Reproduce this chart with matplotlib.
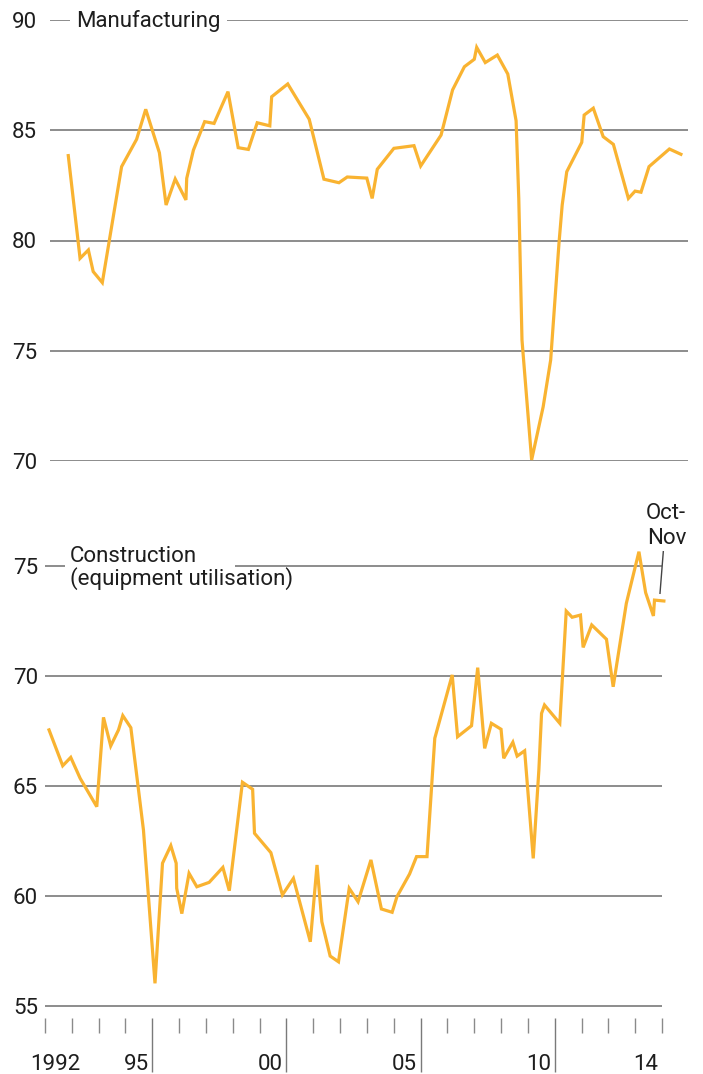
import matplotlib
matplotlib.use("Agg")
import matplotlib.pyplot as plt
from matplotlib.lines import Line2D
from matplotlib.patches import Rectangle
from matplotlib.ticker import FixedLocator

plt.rcParams['font.family'] = ['Roboto', 'DejaVu Sans']

# ---------------- data ----------------
manuf_x = [1992.01, 1992.45, 1992.76, 1992.94, 1993.28, 1994.00, 1994.56, 1994.90,
           1995.41, 1995.66, 1996.00, 1996.40, 1996.43, 1996.68, 1997.10, 1997.45,
           1997.97, 1998.35, 1998.73, 1999.06, 1999.53, 1999.60, 2000.20, 2001.00,
           2001.55, 2002.11, 2002.42, 2003.15, 2003.35, 2003.54, 2004.16, 2004.91,
           2005.16, 2005.92, 2006.35, 2006.79, 2007.16, 2007.25, 2007.57, 2008.02,
           2008.41, 2008.72, 2008.82, 2008.94, 2009.30, 2009.73, 2010.01, 2010.32,
           2010.44, 2010.61, 2011.17, 2011.26, 2011.60, 2011.97, 2012.35, 2012.91,
           2013.16, 2013.38, 2013.68, 2014.44, 2014.87]
manuf_y = [83.85, 79.19, 79.57, 78.59, 78.09, 83.35, 84.59, 85.95,
           83.98, 81.61, 82.79, 81.84, 82.82, 84.10, 85.39, 85.31,
           86.75, 84.21, 84.13, 85.34, 85.20, 86.52, 87.10, 85.50,
           82.78, 82.62, 82.88, 82.83, 81.91, 83.23, 84.18, 84.30,
           83.38, 84.78, 86.83, 87.88, 88.22, 88.76, 88.07, 88.41,
           87.55, 85.43, 81.90, 75.49, 70.05, 72.46, 74.58, 79.87,
           81.61, 83.12, 84.45, 85.69, 86.00, 84.71, 84.36, 81.91,
           82.24, 82.19, 83.35, 84.15, 83.91]

constr_x = [1992.15, 1992.66, 1992.96, 1993.31, 1993.93, 1994.18, 1994.45, 1994.74,
            1994.90, 1995.20, 1995.67, 1996.10, 1996.38, 1996.69, 1996.89, 1996.91,
            1997.10, 1997.37, 1997.66, 1998.12, 1998.63, 1998.87, 1999.36, 1999.74,
            1999.81, 2000.42, 2000.85, 2001.26, 2001.89, 2002.14, 2002.32, 2002.63,
            2002.94, 2003.34, 2003.67, 2004.15, 2004.54, 2004.94, 2005.12, 2005.59,
            2005.85, 2006.24, 2006.53, 2007.18, 2007.38, 2007.90, 2008.13, 2008.39,
            2008.64, 2009.00, 2009.10, 2009.44, 2009.60, 2009.88, 2010.20, 2010.41,
            2010.51, 2010.62, 2011.19, 2011.43, 2011.65, 2011.96, 2012.06, 2012.38,
            2012.93, 2013.18, 2013.67, 2014.14, 2014.39, 2014.68, 2014.72, 2015.07]
constr_y = [67.55, 65.92, 66.30, 65.35, 64.06, 68.12, 66.82, 67.55,
            68.20, 67.65, 63.00, 56.03, 61.49, 62.29, 61.49, 60.35,
            59.20, 61.03, 60.42, 60.62, 61.30, 60.24, 65.17, 64.85,
            62.85, 61.97, 60.05, 60.80, 57.92, 61.41, 58.83, 57.27,
            57.01, 60.35, 59.74, 61.64, 59.41, 59.26, 59.97, 61.00,
            61.79, 61.79, 67.17, 70.05, 67.24, 67.74, 70.38, 66.71,
            67.85, 67.58, 66.26, 66.99, 66.36, 66.60, 61.71, 65.73,
            68.30, 68.68, 67.85, 72.95, 72.67, 72.77, 71.30, 72.32,
            71.67, 69.51, 73.30, 75.65, 73.79, 72.73, 73.45, 73.41]

manuf_ticks = [70, 75, 80, 85, 90]
constr_ticks = [55, 60, 65, 70, 75]
year_label_pos = [1992, 1995, 2000, 2005, 2010, 2014]
year_labels = ["1992", "95", "00", "05", "10", "14"]
long_ticks = [1996, 2001, 2006, 2011]
short_ticks = list(range(1992, 2016))

# ---------------- style ----------------
W, H = 703, 1074
LINE = '#F9B331'
GRID = '#6e6e6e'
TXT = '#1e1e1e'
FS = 16
LW = 2.3


def fx(px):
    return px / W


def fy(py):
    return 1 - py / H


fig = plt.figure(figsize=(W / 100, H / 100), dpi=100)
fig.patch.set_facecolor('white')

# top panel: manufacturing
ax1 = fig.add_axes([fx(50), fy(461), (688 - 50) / W, (461 - 20) / H])
ax1.set_xlim(1992 + (50 - 68) / 26.8, 1992 + (688 - 68) / 26.8)
ax1.set_ylim(70, 90)
for v in manuf_ticks:
    ax1.axhline(v, color=GRID, lw=1.1, zorder=1)
ax1.plot(manuf_x, manuf_y, color=LINE, lw=LW, zorder=3, clip_on=False,
         solid_joinstyle='miter')
ax1.set_yticks(manuf_ticks)
ax1.set_yticklabels([str(t) for t in manuf_ticks], fontsize=FS, color=TXT)
ax1.tick_params(axis='y', length=0, pad=9.4)
ax1.set_xticks([])
for s in ax1.spines.values():
    s.set_visible(False)

# bottom panel: construction
ylo = 55 - (1018 - 1006) / 22
yhi = 75 + (566 - 540) / 22
ax2 = fig.add_axes([fx(45), fy(1018), (662 - 45) / W, (1018 - 540) / H])
ax2.set_xlim(1992, 2015)
ax2.set_ylim(ylo, yhi)
for v in constr_ticks:
    ax2.axhline(v, color=GRID, lw=1.1, zorder=1)
ax2.plot(constr_x, constr_y, color=LINE, lw=LW, zorder=3, clip_on=False,
         solid_joinstyle='miter')
ax2.set_yticks(constr_ticks)
ax2.set_yticklabels([str(t) for t in constr_ticks], fontsize=FS, color=TXT)
ax2.tick_params(axis='y', length=0, pad=5.0)
ax2.xaxis.set_major_locator(FixedLocator(long_ticks))
ax2.xaxis.set_minor_locator(FixedLocator(short_ticks))
ax2.tick_params(axis='x', which='major', length=38.9, width=1.0, color='#7a7a7a',
                labelbottom=False, direction='out')
ax2.tick_params(axis='x', which='minor', length=10.8, width=1.0, color='#8a8a8a',
                labelbottom=False, direction='out')
for s in ax2.spines.values():
    s.set_visible(False)

label_y = (1018 - 1070) / 478
for yr, lab in zip(year_label_pos, year_labels):
    ax2.text(yr + 0.4, label_y, lab, transform=ax2.get_xaxis_transform(),
             ha='center', va='baseline', fontsize=FS, color=TXT)

# masks in gridlines behind labels
fig.add_artist(Rectangle((fx(70), fy(26)), (227 - 70) / W, 12 / H,
                         transform=fig.transFigure, facecolor='white',
                         edgecolor='none', zorder=2))
fig.add_artist(Rectangle((fx(65), fy(571)), (235 - 65) / W, 10 / H,
                         transform=fig.transFigure, facecolor='white',
                         edgecolor='none', zorder=2))

fig.text(fx(76), fy(26.7), "Manufacturing", fontsize=FS, color=TXT,
         ha='left', va='baseline', zorder=4)
fig.text(fx(70), fy(561.5), "Construction", fontsize=FS, color=TXT,
         ha='left', va='baseline', zorder=4)
fig.text(fx(70), fy(585), "(equipment utilisation)", fontsize=FS, color=TXT,
         ha='left', va='baseline', zorder=4)
fig.text(fx(646), fy(519), "Oct-", fontsize=FS, color=TXT,
         ha='left', va='baseline', zorder=4)
fig.text(fx(647), fy(543.5), "Nov", fontsize=FS, color=TXT,
         ha='left', va='baseline', zorder=4)
fig.add_artist(Line2D([fx(663.3), fx(660)], [fy(551.7), fy(593.3)],
                      transform=fig.transFigure, color='#444444', lw=1.0,
                      zorder=4))

fig.savefig('out.png', dpi=100, facecolor='white')
